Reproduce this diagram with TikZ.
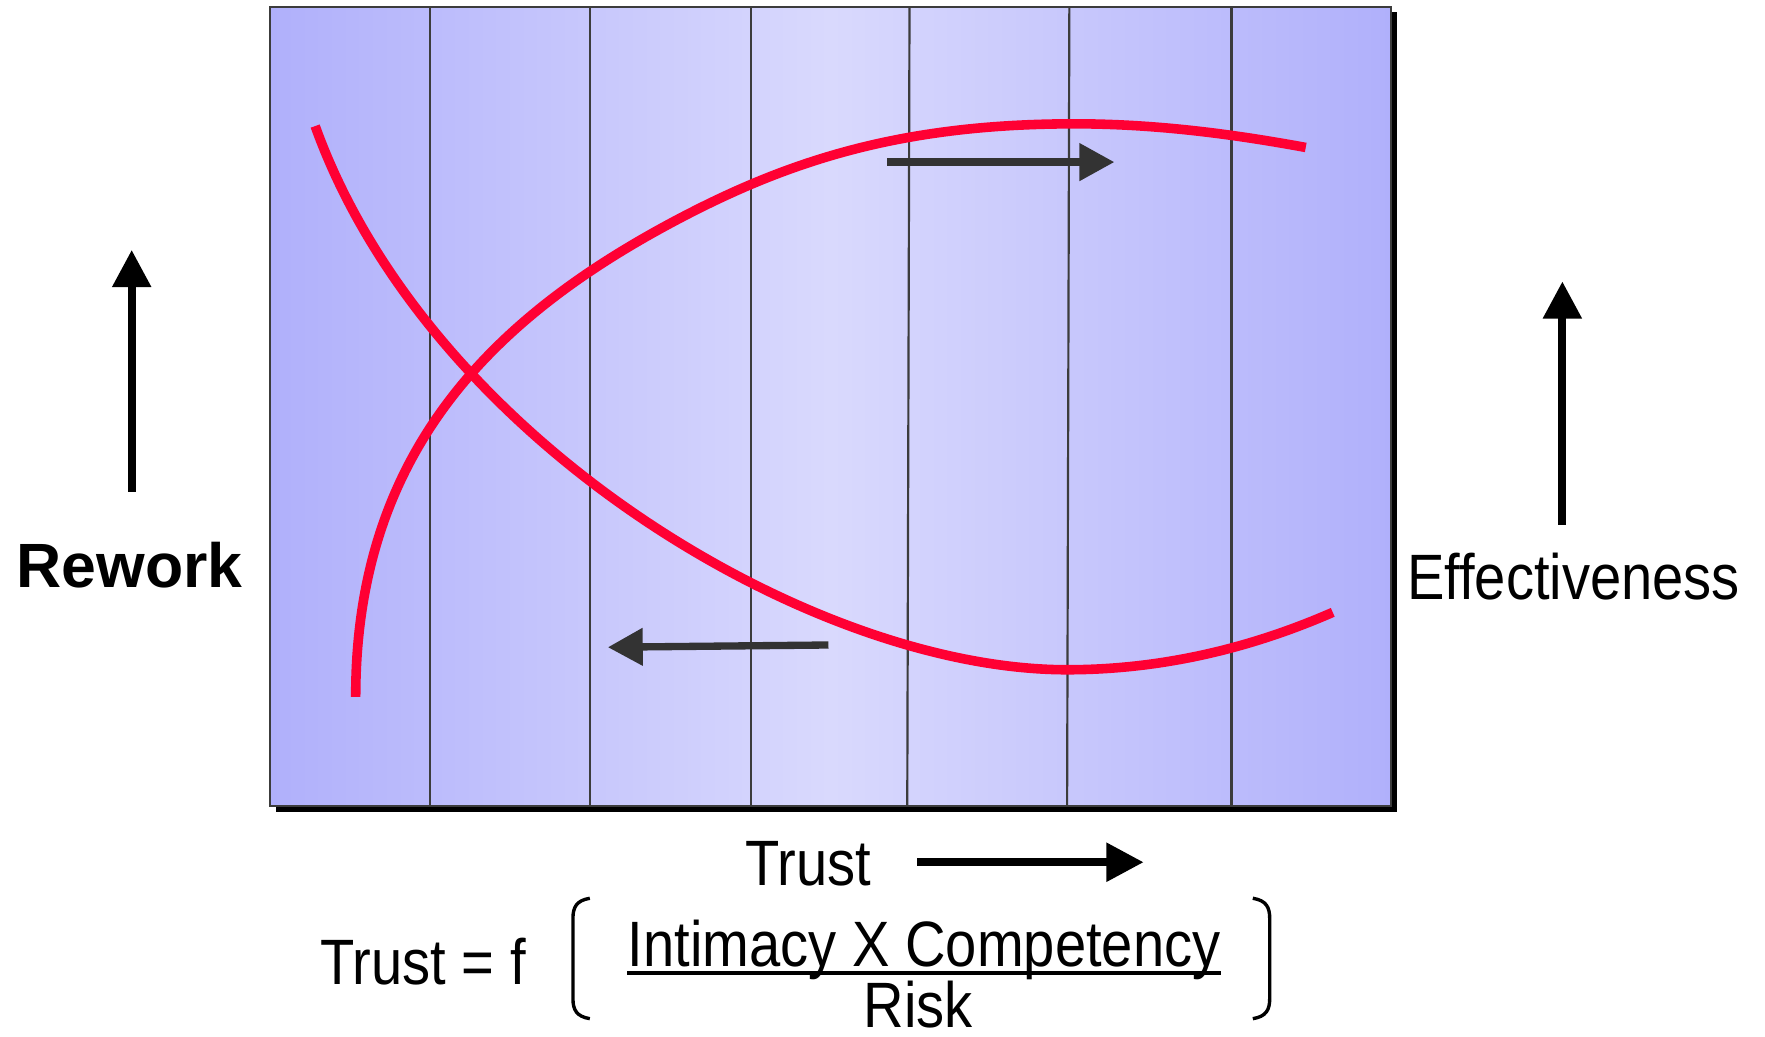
\documentclass[tikz,border=0pt]{standalone}
\usepackage{fontspec}
\setmainfont{Liberation Sans}
\newfontfamily\narrowfont{Liberation Sans}[FakeStretch=0.875]
\usetikzlibrary{arrows.meta,positioning}
\definecolor{bandblue}{HTML}{B0B0FB}
\definecolor{paleblue}{HTML}{D9D9FD}
\definecolor{curvered}{HTML}{FF0033}
\definecolor{darkgrey}{HTML}{333333}
\definecolor{rulegrey}{HTML}{3C3C3C}

\begin{document}
\begin{tikzpicture}[x=0.01cm,y=-0.01cm,
		lbl/.style={inner sep=0pt,font=\narrowfont\fontsize{16.2}{19}\selectfont},
		boldlbl/.style={inner sep=0pt,font=\bfseries\fontsize{15.8}{19}\selectfont},
		band/.style={rulegrey,line width=0.55pt},
		curve/.style={curvered,line width=0.085cm,line cap=butt},
		inarr/.style={-{Triangle[length=0.31cm,width=0.32cm]},darkgrey,line width=0.065cm},
		axarr/.style={-{Triangle[length=0.33cm,width=0.33cm]},black,line width=0.07cm},
		paren/.style={black,line width=0.03cm}
		]
		\useasboundingbox (0,0) rectangle (1568,921);
		\fill[black] (245,11) rectangle (1241,721);
		\draw[rulegrey,line width=0.5pt,left color=bandblue,right color=bandblue,middle color=paleblue] (240,6) rectangle (1236,716);
		\foreach \xt/\xb in {382/382,524/524,667/667,808/806,950/948,1094/1094}
		\draw[band] (\xt,6) -- (\xb,716);
		\draw[curve] (280,112) .. controls (380,390) and (720,595) .. (948,595) .. controls (1040,595) and (1120,572) .. (1184,544);
		\draw[curve] (316,619) .. controls (316,400) and (440,281) .. (600,196) .. controls (700,143) and (800,110) .. (955,110) .. controls (1030,110) and (1100,120) .. (1160,131);
		\coordinate (upfrom) at (788,144);
		\coordinate (upto) at (990,144);
		\coordinate (lowfrom) at (736,573);
		\coordinate (lowto) at (540,575);
		\draw[inarr] (upfrom) -- (upto);
		\draw[inarr] (lowfrom) -- (lowto);
		\node[boldlbl] (rework) at (115,502) {Rework};
		\coordinate (reworkfoot) at (117,437);
		\coordinate (reworktip) at (117,222);
		\draw[axarr] (reworkfoot) -- (reworktip);
		\node[lbl] (effect) at (1398,512) {Effectiveness};
		\coordinate (effectfoot) at (1388,466);
		\coordinate (effecttip) at (1388,250);
		\draw[axarr] (effectfoot) -- (effecttip);
		\node[lbl] (trust) at (718,767) {Trust};
		\coordinate (trustfoot) at (815,766);
		\coordinate (trusttip) at (1016,766);
		\draw[axarr] (trustfoot) -- (trusttip);
		\node[lbl] (trustf) at (376,854) {Trust = f};
		\node[lbl,anchor=base] (num) at (821,859) {Intimacy X Competency};
		\node[lbl,anchor=base] (risk) at (816,913) {Risk};
		\draw[paren,line width=0.035cm] ([yshift=-0.05cm]num.base west) -- ([yshift=-0.05cm]num.base east);
		\draw[paren] (524,798) .. controls (512,800) and (509,806) .. (509,816) -- (509,887) .. controls (509,897) and (512,903) .. (524,905);
		\draw[paren] (1113,798) .. controls (1125,800) and (1128,806) .. (1128,816) -- (1128,887) .. controls (1128,897) and (1125,903) .. (1113,905);
	\end{tikzpicture}
\end{document}
